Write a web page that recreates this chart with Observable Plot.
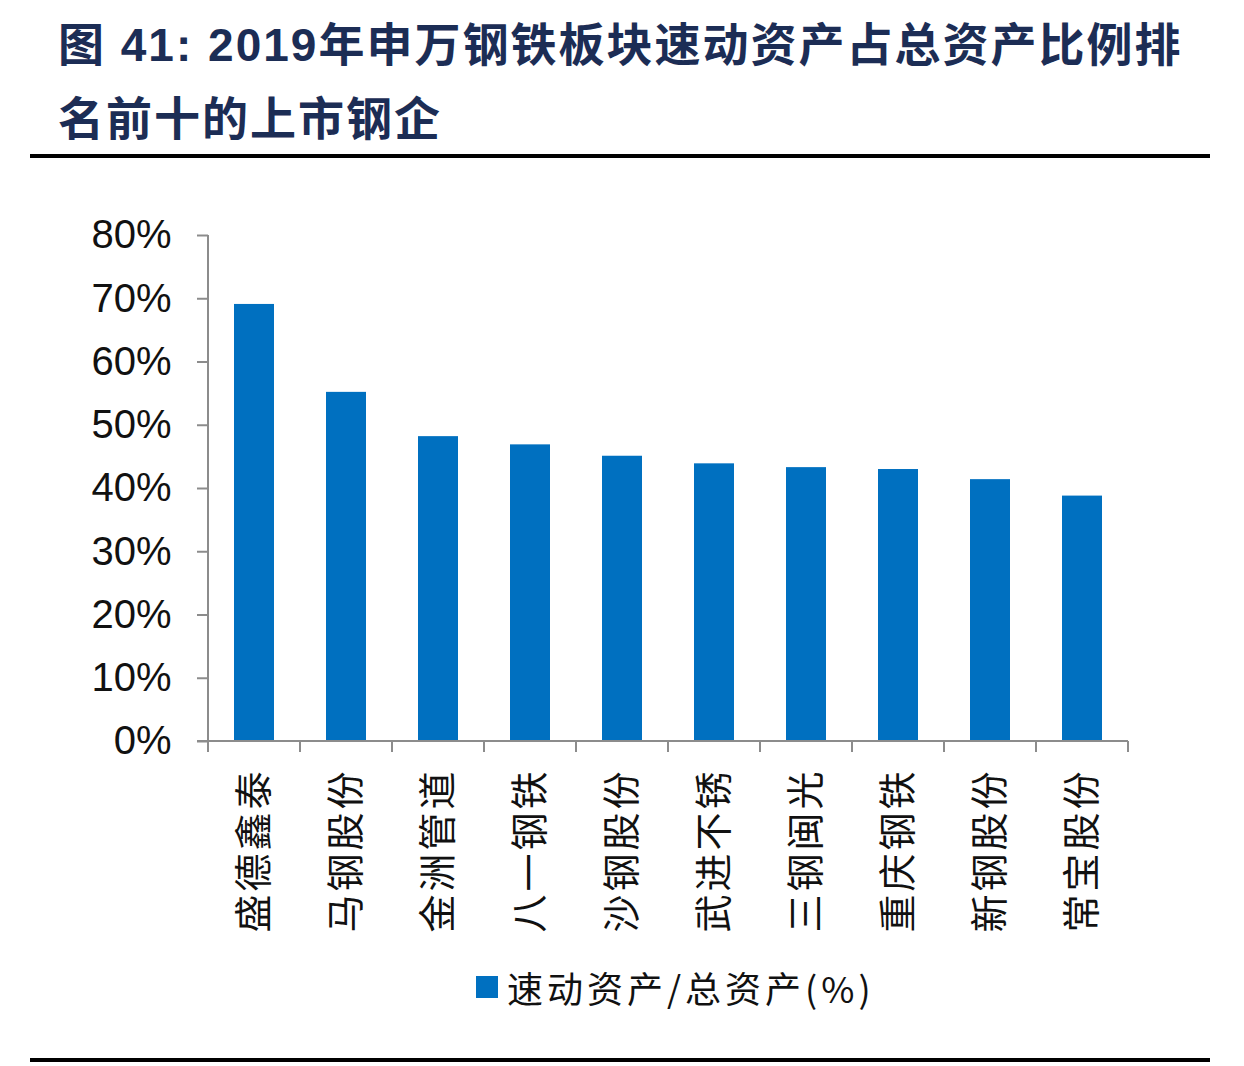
<!DOCTYPE html>
<html><head><meta charset="utf-8">
<script src="https://cdn.jsdelivr.net/npm/d3@7"></script>
<script src="https://cdn.jsdelivr.net/npm/@observablehq/plot@0.6"></script>
<style>
body{margin:0;background:#fff;width:1244px;height:1066px;position:relative;overflow:hidden;font-family:"Noto Sans CJK SC";}
.title{position:absolute;left:58px;top:8px;font-size:46px;font-weight:700;color:#1c2d55;line-height:74px;letter-spacing:2px;font-family:"Liberation Sans","Noto Sans CJK SC";white-space:nowrap;}
.rule{position:absolute;left:30px;width:1180px;height:4px;background:#000}
#chart{position:absolute;left:0;top:190px}
.legend{position:absolute;left:476px;top:961px;display:flex;align-items:center;font-size:36px;letter-spacing:4px;color:#111;font-family:"Noto Sans CJK SC";}
.sw{width:22px;height:22px;background:#0070c0;margin-right:9px}
</style>
</head><body>
<div class="title" id="title"></div>
<div class="rule" style="top:154px"></div>
<div id="chart"></div>
<div class="legend"><div class="sw"></div><span id="legtext"></span></div>
<div class="rule" style="top:1058px"></div>
<script>
const titleLines = ["图 41: 2019年申万钢铁板块速动资产占总资产比例排", "名前十的上市钢企"];
const companies = ["盛德鑫泰","马钢股份","金洲管道","八一钢铁","沙钢股份","武进不锈","三钢闽光","重庆钢铁","新钢股份","常宝股份"];
const ratios = [69.1, 55.2, 48.2, 46.9, 45.1, 43.9, 43.3, 43.0, 41.4, 38.8];
const yTicks = [0, 10, 20, 30, 40, 50, 60, 70, 80];
const legendLabel = "速动资产/总资产(%)";

document.getElementById("title").innerHTML = titleLines.join("<br>");
document.getElementById("legtext").textContent = legendLabel;

const data = companies.map((name, i) => ({name, value: ratios[i]}));
const PAD_INNER = 0.565;

function axisLines(index, scales, values, dims, context) {
  const x = scales.x, y = scales.y;
  const step = x(companies[1]) - x(companies[0]);
  let bw = typeof x.bandwidth === "function" ? x.bandwidth() : x.bandwidth;
  if (!(bw > 0)) bw = step * (1 - PAD_INNER);
  const gap = (step - bw) / 2;
  const bounds = companies.map(c => x(c) - gap).concat([x(companies[companies.length - 1]) + bw + gap]);
  const g = d3.create("svg:g").attr("stroke", "#8c8c8c").attr("stroke-width", 2).attr("fill", "none");
  g.append("line").attr("x1", bounds[0]).attr("x2", bounds[0]).attr("y1", y(0)).attr("y2", y(yTicks[yTicks.length - 1]));
  g.append("line").attr("x1", bounds[0] - 11).attr("x2", bounds[bounds.length - 1]).attr("y1", y(0)).attr("y2", y(0));
  for (const b of bounds) {
    g.append("line").attr("x1", b).attr("x2", b).attr("y1", y(0)).attr("y2", y(0) + 11);
  }
  return g.node();
}

const chart = Plot.plot({
  width: 1244, height: 760,
  marginTop: 45, marginBottom: 209, marginLeft: 208, marginRight: 116,
  x: {domain: companies, paddingInner: PAD_INNER, paddingOuter: PAD_INNER / 2, label: null},
  y: {domain: [0, 80], label: null},
  style: {background: "transparent", overflow: "visible"},
  marks: [
    Plot.barY(data, {x: "name", y: "value", fill: "#0070c0"}),
    Plot.axisY({ticks: yTicks, tickFormat: d => d + "%", tickSize: 11, tickPadding: 26, fontSize: 40, fontFamily: "Liberation Sans", stroke: "#8c8c8c", strokeWidth: 2, fill: "#111", label: null}),
    Plot.axisX({tickSize: 0, tickPadding: 27, tickRotate: -90, fontSize: 38, fontFamily: "Noto Sans CJK SC", fill: "#111", label: null}),
    axisLines
  ]
});
d3.select(chart).selectAll("g[aria-label='x-axis tick label'] text").attr("letter-spacing", "3px");
document.getElementById("chart").appendChild(chart);
</script>
</body></html>
